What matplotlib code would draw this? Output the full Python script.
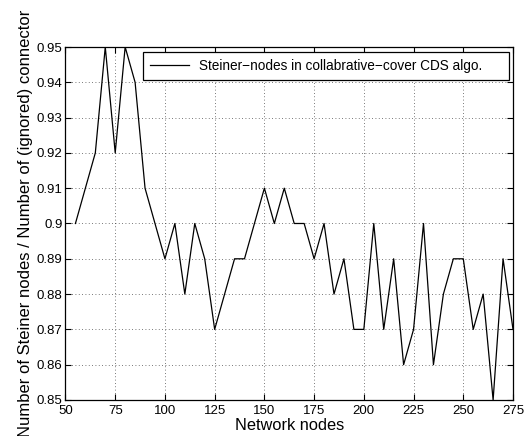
import matplotlib
matplotlib.use("Agg")
import matplotlib.pyplot as plt

plt.rcParams['font.family'] = ['Liberation Sans', 'DejaVu Sans']

# データ
nodes = [55, 60, 65, 70, 75, 80, 85, 90, 95, 100,
         105, 110, 115, 120, 125, 130, 135, 140, 145, 150,
         155, 160, 165, 170, 175, 180, 185, 190, 195, 200,
         205, 210, 215, 220, 225, 230, 235, 240, 245, 250,
         255, 260, 265, 270, 275]
ratio = [0.90, 0.91, 0.92, 0.95, 0.92, 0.95, 0.94, 0.91, 0.90, 0.89,
         0.90, 0.88, 0.90, 0.89, 0.87, 0.88, 0.89, 0.89, 0.90, 0.91,
         0.90, 0.91, 0.90, 0.90, 0.89, 0.90, 0.88, 0.89, 0.87, 0.87,
         0.90, 0.87, 0.89, 0.86, 0.87, 0.90, 0.86, 0.88, 0.89, 0.89,
         0.87, 0.88, 0.85, 0.89, 0.87]
xticks = [50, 75, 100, 125, 150, 175, 200, 225, 250, 275]
yticks = [0.85, 0.86, 0.87, 0.88, 0.89, 0.90, 0.91, 0.92, 0.93, 0.94, 0.95]
ytick_labels = ["0.85", "0.86", "0.87", "0.88", "0.89", "0.9", "0.91",
                "0.92", "0.93", "0.94", "0.95"]

fig = plt.figure(figsize=(5.26, 4.36), dpi=100)
ax = fig.add_axes([0.1245, 0.0826, 0.8508, 0.8096])

ax.plot(nodes, ratio, color="black", linewidth=0.9,
        label="Steiner\u2212nodes in collabrative\u2212cover CDS algo.")

ax.set_xlim(50, 275)
ax.set_ylim(0.85, 0.95)
ax.set_xticks(xticks)
ax.set_yticks(yticks)
ax.set_yticklabels(ytick_labels)
ax.tick_params(direction="in", top=True, right=True, labelsize=9.5, length=4)
ax.tick_params(axis="x", pad=3.5)
ax.tick_params(axis="y", pad=2)
ax.grid(True, linestyle=(0, (1, 3)), color="black", linewidth=0.6, alpha=0.7)

for s in ax.spines.values():
    s.set_linewidth(0.9)

ax.set_xlabel("Network nodes", fontsize=11.8, labelpad=1)
ax.set_ylabel("Number of Steiner nodes / Number of (ignored) connector", fontsize=12, labelpad=3)

# 凡例 (枠を左に広げる)
leg = ax.legend(loc="upper left", bbox_to_anchor=(0.173, 0.912, 0.818, 0.0738),
                mode="expand", borderaxespad=0, fontsize=9.8, fancybox=False,
                framealpha=1, edgecolor="black", handlelength=2.9,
                handletextpad=0.7, borderpad=0.5)
leg.get_frame().set_linewidth(0.9)

fig.savefig("out.png", dpi=100)
